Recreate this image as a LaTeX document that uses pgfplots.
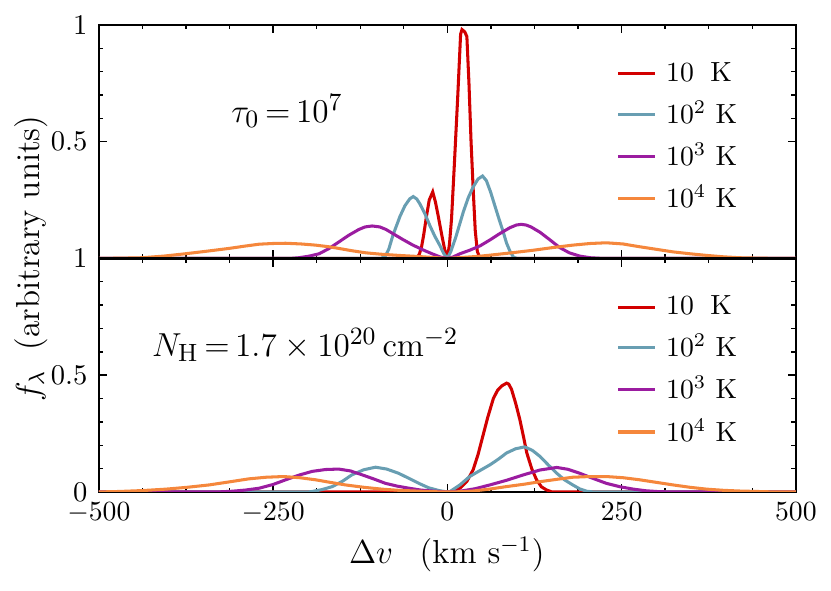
\documentclass[border=0pt]{standalone}
\usepackage{pgfplots}
\pgfplotsset{compat=1.18}
\definecolor{cred}{RGB}{210,0,0}
\definecolor{cblue}{RGB}{104,158,178}
\definecolor{cpurple}{RGB}{155,28,160}
\definecolor{corange}{RGB}{245,135,60}
\pgfplotsset{
  panel/.style={
    width=251.6pt, height=84.3pt, scale only axis,
    xmin=-500, xmax=500, ymin=0, ymax=1,
    xtick={-500,-250,0,250,500},
    minor x tick num=3, minor y tick num=4,
    tick align=inside, tick pos=both,
    major tick length=3pt, minor tick length=1.6pt,
    axis line style={line width=0.9pt},
    every tick/.style={black, line width=0.5pt},
    tick label style={font=\fontsize{10.3}{12}\selectfont},
    yticklabel style={xshift=-0.6pt},
    xticklabel style={yshift=-0.5pt},
    legend cell align=left,
    legend style={at={(0.742,0.855)}, anchor=north west, draw=none, fill=none,
      inner sep=0pt, row sep=3.6pt, font=\fontsize{10}{12}\selectfont,
      nodes={inner sep=1pt},
      /tikz/every odd column/.append style={column sep=2.4pt}},
    legend image code/.code={\draw[#1, line width=1.1pt] (0pt,0pt) -- (13.4pt,0pt);},
    every axis plot/.append style={line width=1.1pt},
  }
}
\begin{document}
\begin{tikzpicture}
\useasboundingbox (-35.7pt,-120.0pt) rectangle (264.3pt,93.3pt);
\begin{axis}[panel, at={(0,0)}, anchor=south west,
  ytick={0.5,1}, yticklabels={0.5,1}, xticklabels={}]
\addplot[cred] coordinates {(-500,0) (-50,0) (-44,0) (-40,0.02) (-37,0.05) (-34,0.1) (-30,0.18) (-26,0.25) (-21,0.285) (-17,0.24) (-13,0.18) (-8,0.1) (-4,0.04) (0,0) (3,0.06) (6,0.17) (10,0.4) (15,0.7) (19,0.96) (21,0.98) (25,0.97) (28,0.95) (31,0.75) (34,0.5) (37,0.3) (40,0.12) (43,0.03) (47,0) (500,0)};
\addlegendentry{$10$\hspace{0.6em}K}
\addplot[cblue] coordinates {(-500,0) (-95,0) (-89,0.01) (-84,0.04) (-78,0.1) (-73,0.14) (-68,0.18) (-61,0.225) (-54,0.255) (-49,0.265) (-44,0.255) (-39.5,0.234) (-32,0.19) (-25,0.14) (-18,0.095) (-11,0.057) (-5,0.02) (0,0) (5,0.03) (12,0.09) (18,0.15) (23,0.2) (30,0.26) (37,0.306) (44,0.34) (50.5,0.353) (56,0.333) (62,0.285) (68,0.227) (74,0.17) (80,0.115) (85,0.065) (90,0.03) (95,0.005) (100,0) (500,0)};
\addlegendentry{$10^2$ K}
\addplot[cpurple] coordinates {(-500,0) (-225,0) (-213,0.003) (-198,0.01) (-184,0.02) (-170,0.042) (-156,0.07) (-141,0.1) (-127,0.124) (-118,0.135) (-108,0.139) (-97,0.135) (-88,0.124) (-79,0.108) (-65,0.083) (-50,0.058) (-36,0.038) (-22,0.02) (-10,0.006) (0,0) (8,0.006) (18,0.02) (32,0.035) (47,0.054) (61,0.079) (75,0.106) (90,0.132) (99,0.143) (106,0.146) (113,0.143) (120,0.135) (133,0.112) (147,0.08) (161,0.047) (175,0.024) (190,0.01) (205,0.003) (222,0) (500,0)};
\addlegendentry{$10^3$ K}
\addplot[corange] coordinates {(-500,0) (-470,0.001) (-438,0.003) (-407,0.01) (-376,0.02) (-345,0.031) (-313,0.043) (-290,0.053) (-270,0.061) (-250,0.064) (-232,0.065) (-210,0.062) (-189,0.057) (-170,0.05) (-156,0.043) (-137,0.033) (-117,0.024) (-95,0.018) (-70,0.013) (-46,0.009) (-25,0.005) (0,0) (25,0.005) (45,0.009) (61,0.014) (92,0.024) (123,0.035) (150,0.046) (180,0.057) (205,0.064) (228,0.067) (252,0.062) (276,0.05) (300,0.039) (324,0.028) (348,0.02) (372,0.013) (396,0.007) (419,0.003) (450,0.001) (480,0) (500,0)};
\addlegendentry{$10^4$ K}
\node[font=\fontsize{12.5}{15}\selectfont] at (axis cs:-230,0.63) {$\tau_0\,{=}\,10^7$};
\end{axis}
\begin{axis}[panel, at={(0,0)}, anchor=north west,
  ytick={0,0.5,1}, yticklabels={0,0.5,1},
  xticklabel style={/pgf/number format/.cd, set thousands separator={}}]
\addplot[cred] coordinates {(-500,0) (0,0) (10,0.004) (18,0.016) (28,0.045) (37,0.095) (44,0.16) (51,0.24) (58,0.32) (66,0.4) (72,0.435) (78,0.454) (85,0.466) (88,0.462) (92,0.44) (98,0.38) (104,0.31) (109,0.24) (114,0.167) (121,0.1) (128,0.052) (135,0.022) (142,0.009) (150,0) (500,0)};
\addlegendentry{$10$\hspace{0.6em}K}
\addplot[cblue] coordinates {(-500,0) (-200,0) (-194,0.002) (-180,0.01) (-165,0.023) (-151,0.045) (-137,0.073) (-120,0.095) (-103,0.106) (-87,0.098) (-70,0.08) (-55,0.058) (-41,0.037) (-27,0.018) (-12,0.006) (0,0) (4,0.002) (18,0.03) (32,0.066) (47,0.092) (61,0.116) (73,0.14) (85,0.167) (98,0.185) (111,0.193) (122,0.178) (133,0.152) (145,0.115) (157,0.08) (168,0.052) (180,0.03) (190,0.013) (200,0.003) (210,0) (500,0)};
\addlegendentry{$10^2$ K}
\addplot[cpurple] coordinates {(-500,0) (-330,0) (-309,0.003) (-290,0.008) (-270,0.016) (-250,0.032) (-232,0.052) (-213,0.072) (-194,0.088) (-175,0.096) (-156,0.098) (-139,0.09) (-122,0.073) (-105,0.055) (-89,0.037) (-72,0.025) (-55,0.016) (-38,0.008) (-22,0.004) (0,0) (18,0.003) (40,0.014) (61,0.03) (85,0.05) (109,0.073) (133,0.094) (157,0.105) (173,0.097) (190,0.08) (209,0.058) (228,0.037) (248,0.022) (267,0.012) (285,0.005) (305,0.001) (330,0) (500,0)};
\addlegendentry{$10^3$ K}
\addplot[corange] coordinates {(-500,0) (-471,0.002) (-437,0.006) (-404,0.012) (-373,0.02) (-342,0.03) (-313,0.043) (-285,0.056) (-260,0.063) (-235,0.066) (-212,0.061) (-189,0.052) (-168,0.041) (-146,0.03) (-120,0.02) (-94,0.012) (-70,0.007) (-46,0.004) (-20,0.001) (0,0) (20,0.001) (37,0.004) (60,0.012) (85,0.023) (110,0.033) (133,0.044) (157,0.054) (180,0.063) (205,0.066) (228,0.066) (252,0.061) (276,0.052) (300,0.041) (324,0.03) (348,0.02) (372,0.012) (396,0.007) (419,0.004) (445,0.002) (470,0) (500,0)};
\addlegendentry{$10^4$ K}
\node[font=\fontsize{12.5}{15}\selectfont] at (axis cs:-204,0.63) {$N_{\mathrm{H}}\,{=}\,1.7\times 10^{20}\,\mathrm{cm}^{-2}$};
\end{axis}
\node[rotate=90, font=\fontsize{12}{14}\selectfont] at (-24.6pt,0pt) {$f_\lambda$\hspace{0.6em}(arbitrary units)};
\node[font=\fontsize{12}{14}\selectfont] at (125.6pt,-107pt) {$\Delta v$\hspace{0.8em}(km s$^{-1}$)};
\end{tikzpicture}
\end{document}
